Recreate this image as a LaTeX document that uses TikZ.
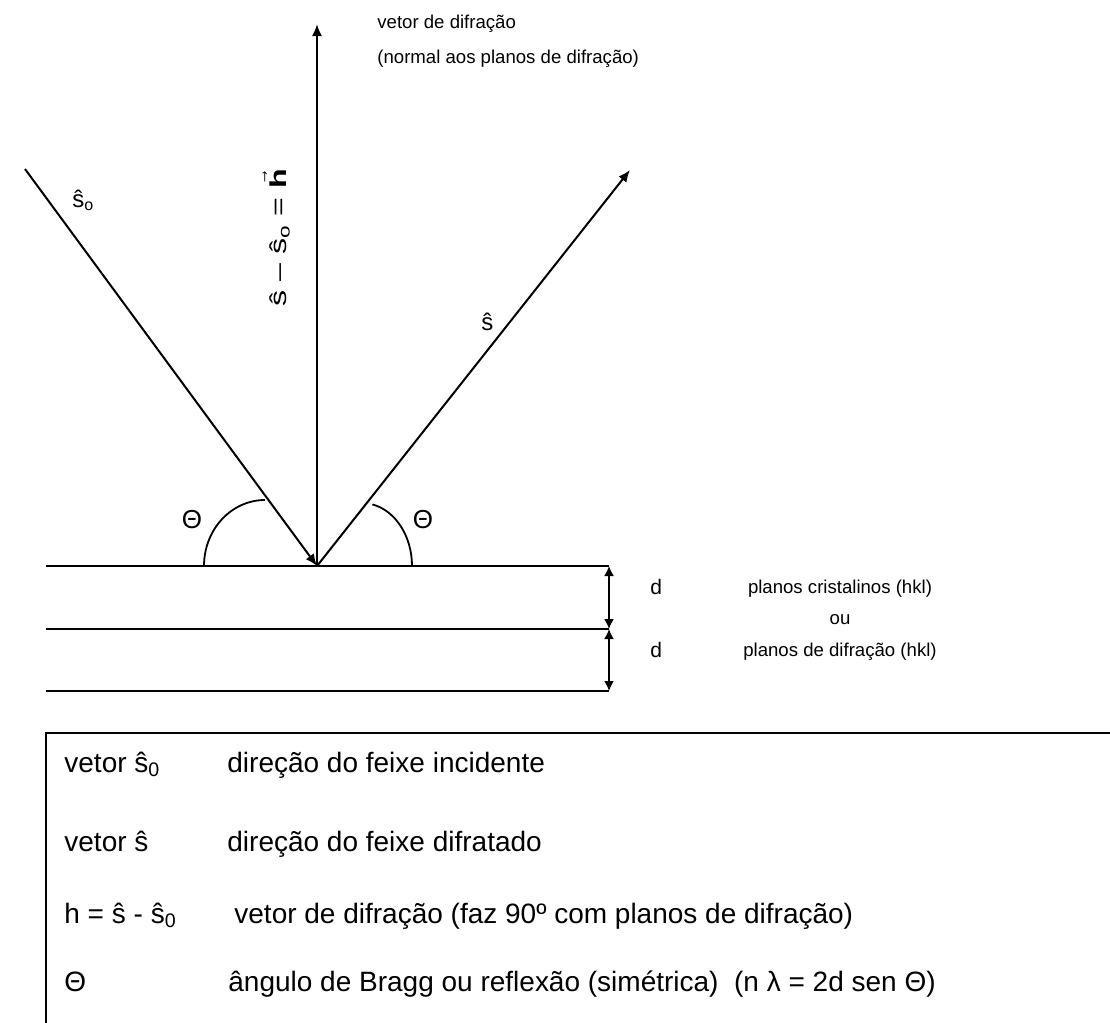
\documentclass[tikz,border=0pt]{standalone}
\usepackage{amsmath}
\usepackage{fontspec}
\setmainfont{Liberation Sans}
\newfontfamily\widefont[FakeStretch=1.4]{Liberation Sans}
\usetikzlibrary{arrows.meta,positioning}

\begin{document}
\begin{tikzpicture}[x=0.5pt, y=-0.5pt,
        arrow/.style={-{Latex[length=6pt,width=5pt]}, line width=1pt},
        gap/.style={{Latex[length=5pt,width=5pt]}-{Latex[length=5pt,width=5pt]}, line width=0.8pt},
        plane/.style={line width=1.2pt},
        angarc/.style={line width=0.9pt},
        note/.style={inner sep=0pt, anchor=base west, font=\fontsize{9.3}{11}\selectfont},
        dlbl/.style={inner sep=0pt, anchor=base west, font=\fontsize{10.5}{12}\selectfont},
        ang/.style={inner sep=0pt, font=\fontsize{13}{15}\selectfont},
        sym/.style={inner sep=0pt, anchor=base west, font=\fontsize{12}{14}\selectfont},
        legtxt/.style={inner sep=0pt, anchor=base west, font=\fontsize{14}{16}\selectfont}
    ]
        \useasboundingbox (0,0) rectangle (1110,1023);
        % beams
        \coordinate (O) at (317,566);
        \coordinate (inc) at (25,169);
        \coordinate (htop) at (317,24);
        \coordinate (stip) at (630,170);
        \draw[arrow] (inc) -- (O);
        \draw[arrow] (O) -- (htop);
        \draw[arrow] (O) -- (stip);
        % planes
        \coordinate (p1w) at (46,566);
        \coordinate (p1e) at (609,566);
        \coordinate (p2w) at (46,629);
        \coordinate (p2e) at (609,629);
        \coordinate (p3w) at (46,691);
        \coordinate (p3e) at (609,691);
        \draw[plane] (p1w) -- (p1e);
        \draw[plane] (p2w) -- (p2e);
        \draw[plane] (p3w) -- (p3e);
        \draw[gap] (p1e) -- (p2e);
        \draw[gap] (p2e) -- (p3e);
        % angles
        \draw[angarc] (204,566) arc[start angle=180, end angle=270, x radius=61, y radius=66];
        \draw[angarc] (372.4,504.4) arc[start angle=-78, end angle=0, x radius=50, y radius=63];
        \node[ang] (th1) at (192,520) {Θ};
        \node[ang] (th2) at (423,520) {Θ};
        % labels
        \node[sym] (s0) at (72,207) {ŝ\textsubscript{o}};
        \node[sym] (s1) at (481,330) {ŝ};
        \node[sym, rotate=90, font=\widefont\fontsize{11.5}{13}\selectfont] (hlbl) at (286,307) {ŝ – ŝ\textsubscript{o} = $\vec{\textbf{h}}$};
        \node[note] (vdif) at (377,28) {vetor de difração};
        \node[note] (vnorm) at (377,63) {(normal aos planos de difração)};
        \node[dlbl] (d1) at (650,594) {d};
        \node[dlbl] (d2) at (650,657) {d};
        \node[note, anchor=base] (pcrist) at (840,593) {planos cristalinos (hkl)};
        \node[note, anchor=base] (pou) at (840,624) {ou};
        \node[note, anchor=base] (pdif) at (840,656) {planos de difração (hkl)};
        % legend
        \draw[line width=0.6pt] (46,733) rectangle (1130,1050);
        \node[legtxt] (k1) at (64,772) {vetor ŝ\textsubscript{0}};
        \node[legtxt] (t1) at (227,772) {direção do feixe incidente};
        \node[legtxt] (k2) at (64,851) {vetor ŝ};
        \node[legtxt] (t2) at (227,851) {direção do feixe difratado};
        \node[legtxt] (k3) at (64,923) {h = ŝ - ŝ\textsubscript{0}};
        \node[legtxt] (t3) at (234,923) {vetor de difração (faz 90º com planos de difração)};
        \node[legtxt] (k4) at (64,991) {Θ};
        \node[legtxt] (t4) at (228,991) {ângulo de Bragg ou reflexão (simétrica)\ \ (n λ = 2d sen Θ)};
    \end{tikzpicture}
\end{document}
